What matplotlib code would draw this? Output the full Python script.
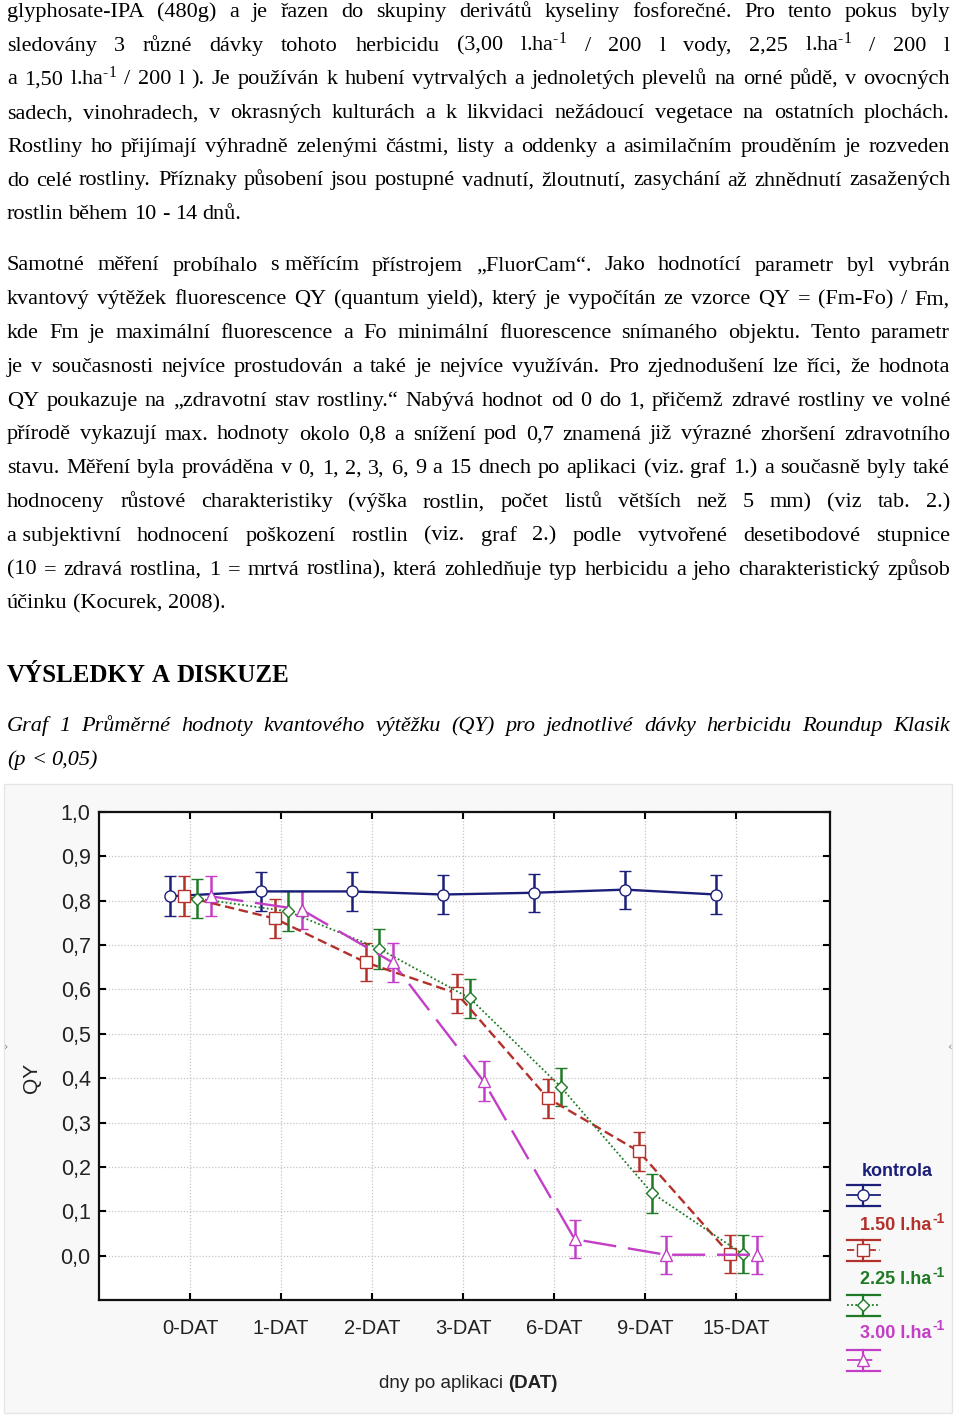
import matplotlib
matplotlib.use('Agg')
import matplotlib.pyplot as plt
from matplotlib.lines import Line2D
from matplotlib.patches import Rectangle
import numpy as np

W, H = 960, 1415

# chart data
days = ['0-DAT', '1-DAT', '2-DAT', '3-DAT', '6-DAT', '9-DAT', '15-DAT']
kontrola = [0.810, 0.821, 0.821, 0.814, 0.818, 0.825, 0.814]
kontrola_err = [0.045, 0.044, 0.044, 0.044, 0.043, 0.043, 0.044]
dose_150 = [0.810, 0.760, 0.661, 0.591, 0.355, 0.235, 0.003]
dose_150_err = [0.045, 0.045, 0.043, 0.044, 0.044, 0.044, 0.043]
dose_225 = [0.805, 0.776, 0.692, 0.580, 0.380, 0.141, 0.003]
dose_225_err = [0.045, 0.045, 0.045, 0.044, 0.043, 0.044, 0.043]
dose_300 = [0.810, 0.780, 0.661, 0.393, 0.037, 0.002, 0.002]
dose_300_err = [0.045, 0.043, 0.044, 0.045, 0.043, 0.043, 0.043]
legend_labels = ['kontrola', '1.50 l.ha', '2.25 l.ha', '3.00 l.ha']
y_ticks = [0.0, 0.1, 0.2, 0.3, 0.4, 0.5, 0.6, 0.7, 0.8, 0.9, 1.0]

SUP = "$^{\\text{-1}}$"
para1 = [
    "glyphosate-IPA (480g) a je řazen do skupiny derivátů kyseliny fosforečné. Pro tento pokus byly",
    f"sledovány 3 různé dávky tohoto herbicidu (3,00 l.ha{SUP} / 200 l vody, 2,25 l.ha{SUP} / 200 l",
    f"a 1,50 l.ha{SUP} / 200 l ). Je používán k hubení vytrvalých a jednoletých plevelů na orné půdě, v ovocných",
    "sadech, vinohradech, v okrasných kulturách a k likvidaci nežádoucí vegetace na ostatních plochách.",
    "Rostliny ho přijímají výhradně zelenými částmi, listy a oddenky a asimilačním prouděním je rozveden",
    "do celé rostliny. Příznaky působení jsou postupné vadnutí, žloutnutí, zasychání až zhnědnutí zasažených",
    "rostlin během 10 - 14 dnů.",
]
para2 = [
    "Samotné měření probíhalo s\u00a0měřícím přístrojem „FluorCam“. Jako hodnotící parametr byl vybrán",
    "kvantový výtěžek fluorescence QY (quantum yield), který je vypočítán ze vzorce QY = (Fm-Fo) / Fm,",
    "kde Fm je maximální fluorescence a Fo minimální fluorescence snímaného objektu. Tento parametr",
    "je v současnosti nejvíce prostudován a také je nejvíce využíván. Pro zjednodušení lze říci, že hodnota",
    "QY poukazuje na „zdravotní stav rostliny.“ Nabývá hodnot od 0 do 1, přičemž zdravé rostliny ve volné",
    "přírodě vykazují max. hodnoty okolo 0,8 a snížení pod 0,7 znamená již výrazné zhoršení zdravotního",
    "stavu. Měření byla prováděna v 0, 1, 2, 3, 6, 9 a 15 dnech po aplikaci (viz. graf 1.) a současně byly také",
    "hodnoceny růstové charakteristiky (výška rostlin, počet listů větších než 5 mm) (viz tab. 2.)",
    "a\u00a0subjektivní hodnocení poškození rostlin (viz. graf 2.) podle vytvořené desetibodové stupnice",
    "(10 = zdravá rostlina, 1 = mrtvá rostlina), která zohledňuje typ herbicidu a jeho charakteristický způsob",
    "účinku (Kocurek, 2008).",
]
heading = "VÝSLEDKY A DISKUZE"
caption = [
    "Graf 1 Průměrné hodnoty kvantového výtěžku (QY) pro jednotlivé dávky herbicidu Roundup Klasik",
    "(p < 0,05)",
]

plt.rcParams['mathtext.fontset'] = 'custom'
plt.rcParams['mathtext.rm'] = 'Liberation Serif'
plt.rcParams['mathtext.it'] = 'Liberation Serif:italic'
plt.rcParams['mathtext.bf'] = 'Liberation Serif:bold'

SANS = 'Liberation Sans'
SERIF = 'Liberation Serif'

fig = plt.figure(figsize=(W / 100, H / 100), dpi=100)
renderer = fig.canvas.get_renderer()


def fx(x):
    return x / W


def fy(y):
    return 1 - y / H


def text_line(line, y, size=16, style='normal', weight='normal', justify=True, left=7, right=950):
    words = line.split(' ')
    items = [fig.text(0, fy(y), w, fontsize=size, family=SERIF, style=style, weight=weight,
                      va='baseline', ha='left') for w in words]
    widths = [t.get_window_extent(renderer).width for t in items]
    if justify and len(items) > 1:
        gap = (right - left - sum(widths)) / (len(items) - 1)
    else:
        gap = size * 100 / 72 * 0.25
    xpos = left
    for t, w in zip(items, widths):
        t.set_x(fx(xpos))
        xpos += w + gap


# body text
for i, line in enumerate(para1):
    text_line(line, 17 + 33.7 * i, justify=(i < len(para1) - 1))
for i, line in enumerate(para2):
    text_line(line, 270.5 + 33.8 * i, justify=(i < len(para2) - 1))
text_line(heading, 682, size=18, weight='bold', justify=False)
text_line(caption[0], 731, style='italic')
text_line(caption[1], 765, style='italic', justify=False)

# light backdrop of the scanned chart
fig.add_artist(Rectangle((fx(4), fy(1413)), fx(952) - fx(4), fy(784) - fy(1413),
                         transform=fig.transFigure, fc='#f8f8f8', ec='#e6e6e6', lw=1, zorder=0))
fig.text(fx(6), fy(1047), '›', fontsize=8, color='#888888', ha='center', va='center')
fig.text(fx(949), fy(1047), '‹', fontsize=8, color='#888888', ha='center', va='center')

# chart
ax = fig.add_axes([fx(99), fy(1300), fx(830) - fx(99), fy(812) - fy(1300)])
ax.set_facecolor('white')
x = np.arange(len(days))

navy = '#1b1f7a'
red = '#b3302b'
green = '#1f7a25'
magenta = '#c23ec6'
series = [
    (kontrola, kontrola_err, navy, 'o', '-', 8, -0.22),
    (dose_150, dose_150_err, red, 's', (0, (4, 2)), 8, -0.07),
    (dose_225, dose_225_err, green, 'D', (0, (1, 1.3)), 6, 0.075),
    (dose_300, dose_300_err, magenta, '^', (0, (14, 5)), 8, 0.225),
]
for vals, errs, color, marker, ls, ms, off in series:
    lw = 1.3 if marker == 'D' else 1.7
    ax.errorbar(x + off, vals, yerr=errs, color=color, ls=ls, lw=lw, marker=marker, ms=ms,
                mfc='white', mec=color, mew=1, capsize=4.5, capthick=1.8, elinewidth=1.8)

ax.set_xlim(-1.0, 7.03)
ax.set_ylim(-0.1, 1.0)
ax.set_xticks(x)
ax.set_xticklabels(days)
ax.set_yticks(y_ticks)
ax.set_yticklabels([f'{v:.1f}'.replace('.', ',') for v in y_ticks])
ax.grid(True, color='#c4c4c4', ls=(0, (1, 1.5)), lw=0.9)
ax.set_axisbelow(True)
ax.tick_params(direction='in', top=True, right=True, length=5, width=1.5, colors='black')
ax.tick_params(axis='x', pad=14, labelsize=14.5)
ax.tick_params(axis='y', pad=6, labelsize=15.5)
for lab in ax.get_xticklabels() + ax.get_yticklabels():
    lab.set_family(SANS)
    lab.set_color('#222222')
for s in ax.spines.values():
    s.set_linewidth(1.6)
    s.set_color('#111111')

fig.text(fx(32), fy(1078), 'QY', rotation=90, fontsize=15, family=SANS, ha='center', va='center', color='#222222')
xl1 = fig.text(0, fy(1383), 'dny po aplikaci ', fontsize=13.5, family=SANS, ha='left', va='center', color='#222222')
xl2 = fig.text(0, fy(1383), '(DAT)', fontsize=13.5, family=SANS, weight='bold', ha='left', va='center', color='#222222')
w1 = xl1.get_window_extent(renderer).width
w2 = xl2.get_window_extent(renderer).width
start = 468 - (w1 + w2) / 2
xl1.set_x(fx(start))
xl2.set_x(fx(start + w1))

# legend drawn by hand (label above its symbol)
leg_colors = [navy, red, green, magenta]
leg_text_y = [1171, 1226, 1280, 1333]
leg_sym_y = [1195, 1250, 1305, 1360]
for k, (label, color, ty, sy) in enumerate(zip(legend_labels, leg_colors, leg_text_y, leg_sym_y)):
    if k == 0:
        fig.text(fx(897), fy(ty), label, fontsize=13, family=SANS, weight='bold', color=color,
                 ha='center', va='center')
    else:
        t = fig.text(fx(860), fy(ty), label, fontsize=13, family=SANS, weight='bold', color=color,
                     ha='left', va='center')
        wdt = t.get_window_extent(renderer).width
        fig.text(fx(861 + wdt), fy(ty - 7), '-1', fontsize=10, family=SANS, weight='bold', color=color,
                 ha='left', va='center')
    _, _, _, marker, ls, ms, _ = series[k]
    x0, x1, xc = 847, 880, 863
    fig.add_artist(Line2D([fx(x0), fx(x1)], [fy(sy - 10)] * 2, color=color, lw=1.6, transform=fig.transFigure))
    fig.add_artist(Line2D([fx(x0), fx(x1)], [fy(sy + 11)] * 2, color=color, lw=1.6, transform=fig.transFigure))
    fig.add_artist(Line2D([fx(xc), fx(xc)], [fy(sy - 10), fy(sy + 11)], color=color, lw=1.6, transform=fig.transFigure))
    fig.add_artist(Line2D([fx(x0), fx(x1)], [fy(sy)] * 2, color=color, lw=1.3, ls=ls, transform=fig.transFigure))
    fig.add_artist(Line2D([fx(xc)], [fy(sy)], color=color, marker=marker, ms=ms, mfc='white', mec=color,
                          ls='none', transform=fig.transFigure))

fig.savefig('out.png', dpi=100, facecolor='white')
